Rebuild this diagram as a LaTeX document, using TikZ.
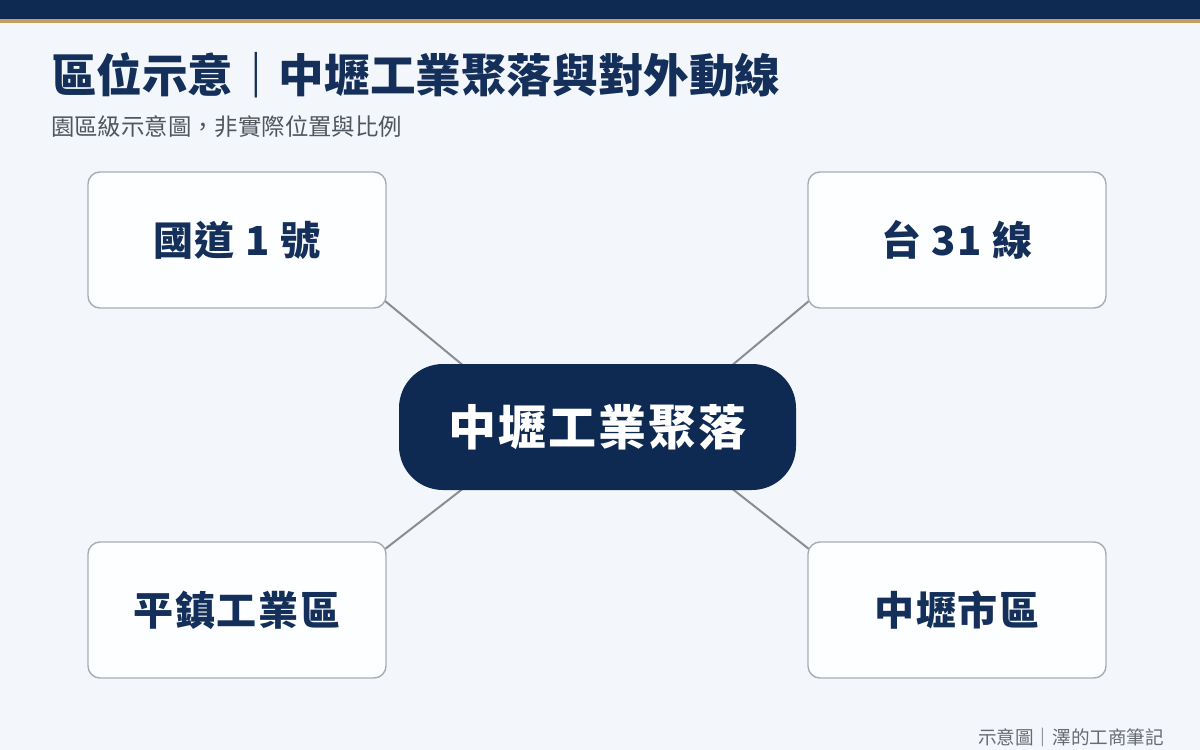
\documentclass[tikz,border=0pt]{standalone}
\usepackage{fontspec}
\newfontfamily\cjk{Noto Sans CJK TC}
\newfontfamily\cjkls{Noto Sans CJK TC}[LetterSpace=4]
\usetikzlibrary{calc}
\definecolor{navy}{HTML}{0E2A52}
\definecolor{navytext}{HTML}{14305A}
\definecolor{gold}{HTML}{C4A060}
\definecolor{bgc}{HTML}{F3F6FA}
\definecolor{boxfill}{HTML}{FDFEFF}
\definecolor{boxline}{HTML}{A9ADB3}
\definecolor{linkc}{HTML}{8A8D92}
\definecolor{subgray}{HTML}{50565E}
\definecolor{footgray}{HTML}{666B72}
\pgfdeclarelayer{bglayer}
\pgfdeclarelayer{edges}
\pgfsetlayers{bglayer,edges,main}
\tikzset{
  placebox/.style={draw=boxline, line width=1.4pt, fill=boxfill, rounded corners=12pt,
    minimum width=298pt, minimum height=136pt, inner sep=0pt,
    font=\cjkls\bfseries\fontsize{40}{44}\selectfont, text=navytext},
  hubbox/.style={fill=navy, rounded corners=44pt, minimum width=397pt, minimum height=126pt,
    inner sep=0pt, font=\cjkls\bfseries\fontsize{48}{52}\selectfont, text=white},
  link/.style={draw=linkc, line width=2pt},
  txt/.style={inner sep=0pt, outer sep=0pt}
}
\begin{document}
\begin{tikzpicture}[x=1pt,y=-1pt]
\useasboundingbox (0,0) rectangle (1200,750);
\begin{pgfonlayer}{bglayer}
  \fill[bgc] (0,0) rectangle (1200,750);
  \fill[navy] (0,0) rectangle (1200,19);
  \fill[gold] (0,19) rectangle (1200,22.5);
\end{pgfonlayer}
\node[txt, anchor=base west, text=navytext, font=\cjk\bfseries\fontsize{45.6}{50}\selectfont] (title) at (51,92) {區位示意｜中壢工業聚落與對外動線};
\node[txt, anchor=base west, text=subgray, font=\cjk\fontsize{23.4}{26}\selectfont] (sub) at (51,135) {園區級示意圖，非實際位置與比例};
\node[placebox] (tl) at (237,240) {國道 1 號};
\node[placebox] (tr) at (957,240) {台 31 線};
\node[placebox] (bl) at (237,610) {平鎮工業區};
\node[placebox] (br) at (957,610) {中壢市區};
\node[hubbox] (hub) at (597.5,427) {中壢工業聚落};
\node[txt, anchor=base east, text=footgray, font=\cjk\fontsize{18.6}{20}\selectfont] (foot) at (1164,744) {示意圖｜澤的工商筆記};
\begin{pgfonlayer}{edges}
  \draw[link] ($(tl.south east)+(-2,-8)$) -- ($(hub.north west)+(66,3)$);
  \draw[link] ($(tr.south west)+(2,-8)$) -- ($(hub.north east)+(-66,3)$);
  \draw[link] ($(bl.north east)+(-2,8)$) -- ($(hub.south west)+(66,-3)$);
  \draw[link] ($(br.north west)+(2,8)$) -- ($(hub.south east)+(-66,-3)$);
\end{pgfonlayer}
\end{tikzpicture}
\end{document}
